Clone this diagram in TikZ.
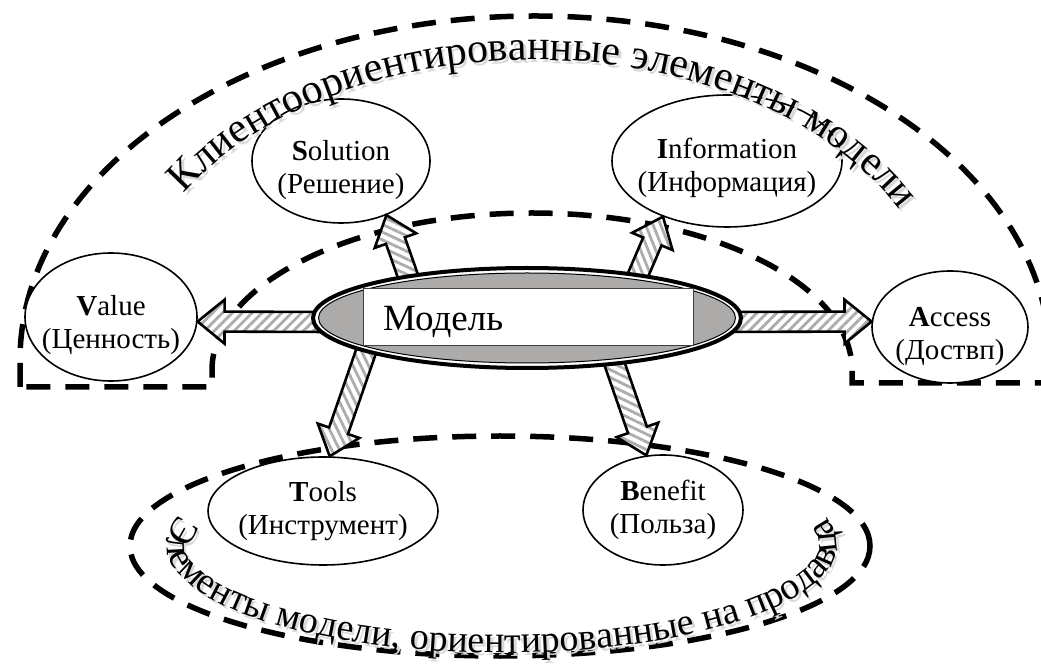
\documentclass[tikz,border=0pt]{standalone}
\usepackage{fontspec}
\setmainfont{Liberation Serif}
\usetikzlibrary{calc,patterns.meta,decorations.text,shapes.geometric}
\definecolor{modgray}{RGB}{173,170,170}
\begin{document}
\begin{tikzpicture}[x=1pt,y=1pt,
  dsh/.style={draw=black, line width=5.5pt, dash pattern=on 24pt off 15pt},
  elem/.style={ellipse, draw=black, line width=1.6pt, fill=white, inner sep=0pt},
  lbl/.style={align=center, font=\fontsize{29}{33}\selectfont, inner sep=0pt},
  barrow/.style={draw=black, line width=2.6pt, line join=miter, miter limit=10,
    preaction={fill=white},
    pattern={Lines[angle=#1,distance=7pt,line width=2.8pt]}, pattern color=gray!65,
    to path={
      -- ($(\tikztostart)!10pt!90:(\tikztotarget)$)
      -- ($(\tikztotarget)!27pt!(\tikztostart)!10pt!90:(\tikztotarget)$)
      -- ($(\tikztotarget)!27pt!(\tikztostart)!22pt!90:(\tikztotarget)$)
      -- (\tikztotarget)
      -- ($(\tikztotarget)!27pt!(\tikztostart)!22pt!-90:(\tikztotarget)$)
      -- ($(\tikztotarget)!27pt!(\tikztostart)!10pt!-90:(\tikztotarget)$)
      -- ($(\tikztostart)!10pt!-90:(\tikztotarget)$)
      -- cycle}},
  curvtext/.style={decorate, decoration={text along path, text align=center, text={#1}}}
]
\useasboundingbox (0,0) rectangle (1041,664);

% dashed regions
\draw[dsh] (20,277) -- (20,304)
  arc[start angle=180, end angle=0, x radius=515, y radius=344]
  -- (1050,281) -- (852,281) -- (852,294)
  arc[start angle=0, end angle=180, x radius=320, y radius=157]
  -- (212,277) -- cycle;
\draw[dsh] (500,118) ellipse[x radius=370, y radius=110];

% element ellipses
\node[elem, minimum width=172pt, minimum height=128pt,
  label={[lbl, yshift=-8pt]center:{\textbf{V}alue\\(Ценность)}}] (val) at (111,347) {};
\node[elem, minimum width=178pt, minimum height=124pt,
  label={[lbl, yshift=-9pt]center:{\textbf{S}olution\\(Решение)}}] (sol) at (341,503) {};
\node[elem, minimum width=230pt, minimum height=132pt,
  label={[lbl, yshift=-7pt]center:{\textbf{I}nformation\\(Информация)}}] (inf) at (727,503) {};
\node[elem, minimum width=156pt, minimum height=112pt,
  label={[lbl, yshift=-10pt]center:{\textbf{A}ccess\\(Доствп)}}] (acc) at (950,337) {};
\node[elem, minimum width=230pt, minimum height=108pt,
  label={[lbl]center:{\textbf{T}ools\\(Инструмент)}}] (tool) at (323,153) {};
\node[elem, minimum width=160pt, minimum height=110pt,
  label={[lbl]center:{\textbf{B}enefit\\(Польза)}}] (ben) at (663,154) {};

% arrow starts (hidden under the central ellipse)
\coordinate (sV) at (330,342);
\coordinate (sA) at (720,342);
\coordinate (sS) at (410,382);
\coordinate (sI) at (635,382);
\coordinate (sT) at (370,324);
\coordinate (sB) at (608,319);

% block arrows
\draw[barrow=45]  (sV) to (val.-3);
\draw[barrow=45]  (sA) to (acc.176);
\draw[barrow=155] (sS) to (sol.-50.5);
\draw[barrow=112] (sI) to (inf.-139);
\draw[barrow=116] (sT) to (tool.83);
\draw[barrow=154] (sB) to (ben.107.5);

% central model
\node[ellipse, draw=black, line width=4pt, fill=white, inner sep=0pt,
  minimum width=428pt, minimum height=100pt] (model) at (527,346) {};
\draw[line width=1pt, fill=modgray] (model.center) ellipse[x radius=208.5, y radius=45];
\node[draw=black!75, line width=0.8pt, fill=white, inner sep=0pt,
  minimum width=330pt, minimum height=57pt] (rect) at (528,347.5) {};
\node[anchor=base west, font=\fontsize{37}{37}\selectfont, inner sep=0pt] (mtext) at (383,333) {Модель};

% curved titles with soft shadow
\path[curvtext={|\fontsize{42}{42}\selectfont\color{black!15}|Клиентоориентированные элементы модели}, shift={(2.5,-3)}]
  (535,334) ++(149:407 and 270) arc[start angle=149, end angle=27, x radius=407, y radius=270];
\path[curvtext={|\fontsize{42}{42}\selectfont|Клиентоориентированные элементы модели}]
  (535,334) ++(149:407 and 270) arc[start angle=149, end angle=27, x radius=407, y radius=270];

\path[curvtext={|\fontsize{38}{38}\selectfont\color{black!15}|Элементы модели, ориентированные на продавца}, shift={(2.5,-3)}]
  (502,119) ++(166:335 and 108) arc[start angle=166, end angle=373, x radius=335, y radius=108];
\path[curvtext={|\fontsize{38}{38}\selectfont|Элементы модели, ориентированные на продавца}]
  (502,119) ++(166:335 and 108) arc[start angle=166, end angle=373, x radius=335, y radius=108];
\end{tikzpicture}
\end{document}
